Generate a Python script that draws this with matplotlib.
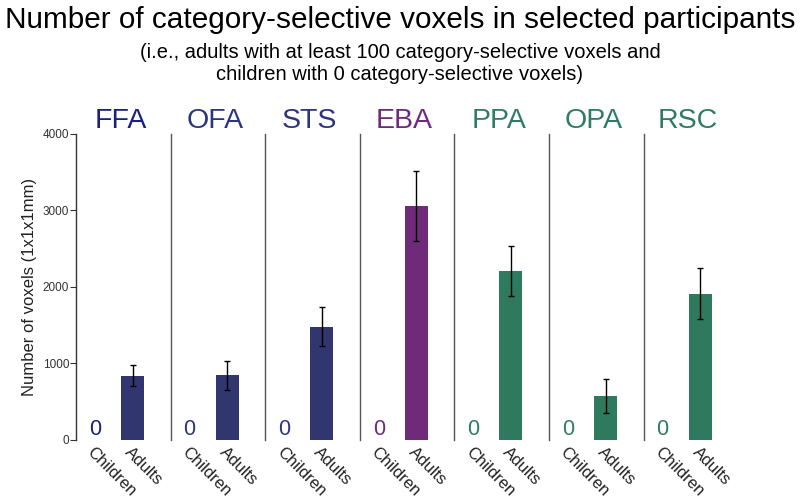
import matplotlib
matplotlib.use("Agg")
import matplotlib.pyplot as plt

plt.rcParams["font.family"] = ["Liberation Sans", "DejaVu Sans"]

# data
regions = ["FFA", "OFA", "STS", "EBA", "PPA", "OPA", "RSC"]
groups = ["Children", "Adults"]
adults_mean = [840, 845, 1480, 3060, 2205, 580, 1910]
adults_err = [137, 190, 255, 455, 330, 222, 333]
children_mean = [0, 0, 0, 0, 0, 0, 0]

text_colors = ["#1b1f80", "#2e3580", "#2e3580", "#6e2b7d", "#2e7d62", "#2e7d62", "#2e7d62"]
bar_colors = ["#31366f", "#31366f", "#31366f", "#6f2b7a", "#2f7a5e", "#2f7a5e", "#2f7a5e"]

fig = plt.figure(figsize=(8, 5), dpi=100)

left = 76 / 800
pw = 94.6 / 800
bottom = 60 / 500
ph = 306.3 / 500

for i, reg in enumerate(regions):
    ax = fig.add_axes([left + i * pw, bottom, pw, ph])
    ax.bar([2], [adults_mean[i]], width=0.61, color=bar_colors[i], zorder=2)
    ax.errorbar([2], [adults_mean[i]], yerr=[adults_err[i]], fmt="none",
                ecolor="black", elinewidth=1.0, capsize=2.5, capthick=1.0, zorder=3)
    ax.text(1, children_mean[i] + 5, "0", ha="center", va="bottom",
            fontsize=15.5, color=text_colors[i])
    ax.set_xlim(0.493, 3.016)
    ax.set_ylim(0, 4000)
    for s in ["top", "right", "bottom"]:
        ax.spines[s].set_visible(False)
    ax.spines["left"].set_color("#555555" if i else "#333333")
    ax.spines["left"].set_linewidth(1.0)
    ax.set_xticks([1, 2])
    ax.set_xticklabels(groups, rotation=-45, ha="left", va="top",
                       rotation_mode="anchor", fontsize=12, color="#222222")
    ax.tick_params(axis="x", length=0, pad=3)
    if i == 0:
        ax.set_yticks([0, 1000, 2000, 3000, 4000])
        ax.tick_params(axis="y", length=4, width=0.8, labelsize=8.5,
                       colors="#333333", pad=1)
        ax.set_ylabel("Number of voxels (1x1x1mm)", fontsize=12,
                      color="#222222", labelpad=4)
    else:
        ax.set_yticks([])
    ax.set_title(reg, fontsize=20.5, color=text_colors[i], pad=2, x=0.47)

fig.text(0.5, 0.988, "Number of category-selective voxels in selected participants",
         ha="center", va="top", fontsize=21.4, color="black")
fig.text(0.5, 0.915, "(i.e., adults with at least 100 category-selective voxels and",
         ha="center", va="top", fontsize=14.5, color="black")
fig.text(0.5, 0.871, "children with 0 category-selective voxels)",
         ha="center", va="top", fontsize=14.5, color="black")

fig.savefig("out.png", dpi=100)
